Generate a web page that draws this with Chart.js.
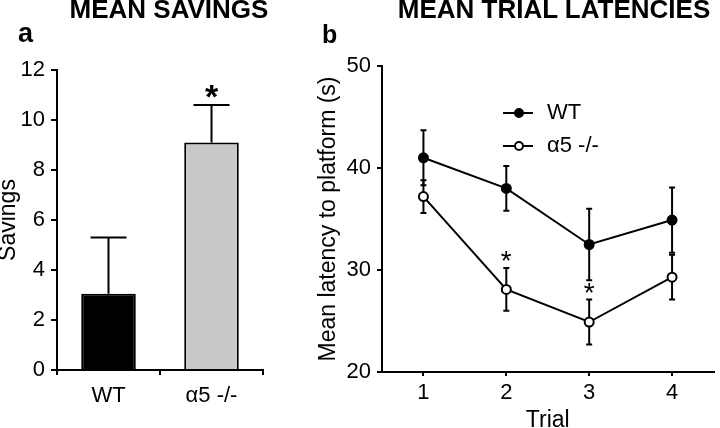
<!DOCTYPE html>
<html>
<head>
<meta charset="utf-8">
<script src="https://cdn.jsdelivr.net/npm/chart.js@4.4.0/dist/chart.umd.min.js"></script>
<style>
html, body { margin: 0; padding: 0; background: #fff; }
#wrap { position: relative; width: 720px; height: 428px; overflow: hidden; font-family: "Liberation Sans", Arial, sans-serif; color: #000; }
canvas { position: absolute; top: 0; }
.ttl { position: absolute; top: -4px; font-weight: bold; font-size: 26px; line-height: 26px; white-space: nowrap; transform: translateX(-50%); }
.lab { position: absolute; font-weight: bold; }
</style>
</head>
<body>
<div id="wrap">
  <canvas id="savingsChart" width="285" height="428" style="left:0"></canvas>
  <canvas id="latencyChart" width="435" height="428" style="left:285px"></canvas>
  <div class="ttl" style="left:169px">MEAN SAVINGS</div>
  <div class="ttl" style="left:554px">MEAN TRIAL LATENCIES</div>
  <div class="lab" style="left:18px;top:20px;font-size:27px;line-height:27px">a</div>
  <div class="lab" style="left:322px;top:22px;font-size:25px;line-height:25px">b</div>
</div>
<script>
// Data

const groups = ["WT", "α5 -/-"];
const savings = [3.05, 9.1];
const savingsErr = [2.25, 1.5];
const savingsStars = [null, "*"];

const trials = [1, 2, 3, 4];
const wtLatency = [41.0, 38.0, 32.5, 34.9];
const wtErr = [2.7, 2.2, 3.5, 3.2];
const koLatency = [37.2, 28.1, 24.9, 29.3];
const koErr = [1.6, 2.1, 2.2, 2.2];
const koStars = [null, "*", "*", null];

const FONT = '"Liberation Sans", Arial, sans-serif';
Chart.defaults.font.family = FONT;
Chart.defaults.color = "#000";

// Error bars + significance stars drawn from the dataset values

function drawErrors(chart, opts) {
    const ctx = chart.ctx;
    const yScale = chart.scales.y;
    ctx.save();
    ctx.strokeStyle = "#000";
    ctx.lineWidth = 2;
    chart.data.datasets.forEach((ds, i) => {
        if (!ds.errors) return;
        const meta = chart.getDatasetMeta(i);
        meta.data.forEach((el, j) => {
            const d = ds.data[j];
            const v = typeof d === "object" ? d.y : d;
            const e = ds.errors[j];
            const top = yScale.getPixelForValue(v + e);
            const bottom = opts.upOnly ? el.y : yScale.getPixelForValue(v - e);
            const half = opts.capWidth / 2;
            ctx.beginPath();
            ctx.moveTo(el.x, top);
            ctx.lineTo(el.x, bottom);
            ctx.moveTo(el.x - half, top);
            ctx.lineTo(el.x + half, top);
            if (!opts.upOnly) {
                ctx.moveTo(el.x - half, bottom);
                ctx.lineTo(el.x + half, bottom);
            }
            ctx.stroke();
            if (ds.stars && ds.stars[j]) {
                const size = opts.starSize;
                ctx.font = opts.starWeight + " " + size + "px " + FONT;
                ctx.fillStyle = "#000";
                ctx.textAlign = "center";
                ctx.textBaseline = "alphabetic";
                const cy = top - opts.starGap;
                ctx.fillText(ds.stars[j], el.x, cy + size * 0.575);
            }
        });
    });
    ctx.restore();
}

const errorBars = {
    id: "errorBars",
    beforeDatasetsDraw(chart, args, opts) {
        if (opts.below) drawErrors(chart, opts);
    },
    afterDatasetsDraw(chart, args, opts) {
        if (!opts.below) drawErrors(chart, opts);
    }
};

const innerLegend = {
    id: "innerLegend",
    afterDraw(chart) {
        const ctx = chart.ctx;
        const a = chart.chartArea;
        ctx.save();
        chart.data.datasets.forEach((ds, i) => {
            const y = a.top + 47 + i * 33;
            const x0 = a.left + 121;
            ctx.strokeStyle = "#000";
            ctx.lineWidth = 2;
            ctx.beginPath();
            ctx.moveTo(x0, y);
            ctx.lineTo(x0 + 30, y);
            ctx.stroke();
            ctx.beginPath();
            ctx.arc(x0 + 16, y, 4, 0, Math.PI * 2);
            ctx.fillStyle = ds.pointBackgroundColor;
            ctx.fill();
            ctx.stroke();
            ctx.fillStyle = "#000";
            ctx.font = "22px " + FONT;
            ctx.textAlign = "left";
            ctx.textBaseline = "middle";
            ctx.fillText(ds.label, x0 + 44, y);
        });
        ctx.restore();
    }
};

const axisGrid = {
    drawOnChartArea: false,
    color: "#000",
    lineWidth: 2
};

// Panel a

new Chart(document.getElementById("savingsChart"), {
    type: "bar",
    data: {
        labels: groups,
        datasets: [{
            label: "Savings",
            data: savings,
            errors: savingsErr,
            stars: savingsStars,
            backgroundColor: ["#000000", "#c9c9c9"],
            borderColor: "#000",
            borderWidth: 2,
            barPercentage: 0.53,
            categoryPercentage: 1
        }]
    },
    options: {
        responsive: false,
        animation: false,
        devicePixelRatio: 1,
        layout: { padding: { top: 70, right: 22, left: 0, bottom: 0 } },
        plugins: {
            legend: { display: false },
            tooltip: { enabled: false },
            errorBars: { upOnly: true, capWidth: 36, starSize: 34, starWeight: "bold", starGap: 17 }
        },
        scales: {
            x: {
                grid: { ...axisGrid, tickLength: 5, offset: true },
                border: { color: "#000", width: 2 },
                ticks: { font: { size: 22 }, padding: 8 },
                afterFit: (s) => { s.height = 58; }
            },
            y: {
                min: 0,
                max: 12,
                grid: { ...axisGrid, tickLength: 6 },
                border: { color: "#000", width: 2 },
                ticks: { stepSize: 2, font: { size: 22 }, padding: 6 },
                title: { display: true, text: "Savings", font: { size: 23 }, padding: { top: -5, bottom: 0 } },
                afterFit: (s) => { s.width = 57; }
            }
        }
    },
    plugins: [errorBars]
});

// Panel b

new Chart(document.getElementById("latencyChart"), {
    type: "line",
    data: {
        datasets: [
            {
                label: "WT",
                data: trials.map((t, i) => ({ x: t, y: wtLatency[i] })),
                errors: wtErr,
                borderColor: "#000",
                borderWidth: 2,
                pointRadius: 4.5,
                pointBorderWidth: 2,
                pointBackgroundColor: "#000",
                pointBorderColor: "#000",
                tension: 0
            },
            {
                label: "α5 -/-",
                data: trials.map((t, i) => ({ x: t, y: koLatency[i] })),
                errors: koErr,
                stars: koStars,
                borderColor: "#000",
                borderWidth: 2,
                pointRadius: 4.5,
                pointBorderWidth: 2,
                pointBackgroundColor: "#ffffff",
                pointBorderColor: "#000",
                tension: 0
            }
        ]
    },
    options: {
        responsive: false,
        animation: false,
        devicePixelRatio: 1,
        layout: { padding: { top: 66, right: 2, left: 0, bottom: 0 } },
        plugins: {
            legend: { display: false },
            tooltip: { enabled: false },
            errorBars: { below: true, upOnly: false, capWidth: 6, starSize: 28, starWeight: "normal", starGap: 14 }
        },
        scales: {
            x: {
                type: "linear",
                min: 0.5,
                max: 4.5,
                afterBuildTicks: (s) => { s.ticks = trials.map((v) => ({ value: v })); },
                grid: { ...axisGrid, tickLength: 4 },
                border: { color: "#000", width: 2 },
                ticks: { font: { size: 22 }, padding: 4 },
                title: { display: true, text: "Trial", font: { size: 23 }, padding: { top: 0, bottom: -6 } },
                afterFit: (s) => { s.height = 56; }
            },
            y: {
                min: 20,
                max: 50,
                grid: { ...axisGrid, tickLength: 5 },
                border: { color: "#000", width: 2 },
                ticks: { stepSize: 10, font: { size: 22 }, padding: 6 },
                title: { display: true, text: "Mean latency to platform (s)", font: { size: 23 }, padding: { top: 30, bottom: 0 } },
                afterFit: (s) => { s.width = 97; }
            }
        }
    },
    plugins: [errorBars, innerLegend]
});
</script>
</body>
</html>
